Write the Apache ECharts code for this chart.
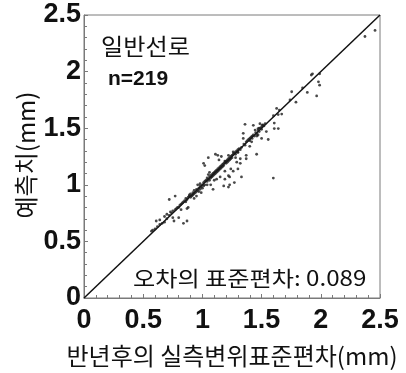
<!DOCTYPE html>
<html>
<head>
<meta charset="utf-8">
<script src="https://cdn.jsdelivr.net/npm/echarts@6/dist/echarts.min.js"></script>
<style>
  html, body { margin: 0; padding: 0; background: #fff; }
  #chart { width: 406px; height: 373px; }
</style>
</head>
<body>
<div id="chart"></div>
<script>
// Axis ticks (mm)
const tickValues = [0, 0.5, 1, 1.5, 2, 2.5];

// Reference line: prediction equals measurement
const identityLine = [[0, 0], [2.5, 2.5]];

// [measured SD after half a year (mm), predicted value (mm)]
const lowerRange = [
  [0.57,0.59],[0.58,0.60],[0.60,0.61],[0.61,0.68],[0.62,0.63],[0.64,0.69],[0.64,0.65],[0.66,0.66],
  [0.68,0.67],[0.68,0.72],[0.70,0.74],[0.70,0.70],[0.72,0.73],[0.72,0.87],[0.73,0.76],[0.74,0.75],
  [0.75,0.71],[0.75,0.77],[0.76,0.68],[0.77,0.78],[0.77,0.90],[0.78,0.79],[0.79,0.80],[0.80,0.71],
  [0.80,0.80],[0.81,0.82],[0.82,0.83],[0.82,0.78],[0.84,0.66],[0.84,0.85],[0.85,0.86],[0.86,0.88],
  [0.87,0.68],[0.87,0.79],[0.87,0.87],[0.88,0.80],[0.88,0.89],[0.89,0.90],[0.83,0.84],[0.86,0.85]
];
const midRange = [
  [0.89,0.91],[0.90,0.89],[0.90,0.92],[0.91,0.90],[0.92,0.93],[0.92,0.91],[0.93,0.92],[0.93,0.95],
  [0.94,0.93],[0.95,0.94],[0.95,0.96],[0.96,0.95],[0.97,0.97],[0.97,0.94],[0.98,0.99],[0.98,0.96],
  [0.99,0.98],[1.00,1.00],[1.00,0.97],[1.01,1.02],[0.98,1.01],[1.01,0.99],[1.02,1.00],
  [0.93,0.88],[0.95,0.90],[0.96,1.00],[0.99,0.93],
  [1.02,1.03],[1.03,1.04],[1.04,1.03],[1.04,1.06],[1.05,1.05],[1.06,1.07],[1.06,1.04],[1.07,1.08],
  [1.07,1.06],[1.08,1.09],[1.08,1.07],[1.09,1.10],[1.09,1.08],[1.10,1.11],[1.10,1.09],[1.11,1.12],
  [1.11,1.10],[1.12,1.13],[1.12,1.11],[1.13,1.12],[1.13,1.14],[1.14,1.13],[1.14,1.15],[1.15,1.16],
  [1.05,1.09],[1.06,1.11],
  [1.05,1.24],[1.01,1.19],[1.02,1.17],[1.11,1.27],[1.13,1.26],[1.04,1.00],[1.09,0.96],[1.12,1.05],
  [1.15,1.07],[1.18,0.99],[1.22,0.98],[1.23,1.00],[1.27,1.02],[1.19,1.05],[1.23,1.07],[1.33,1.07],
  [1.10,1.04],[1.07,1.00]
];
const upperRange = [
  [1.15,1.14],[1.16,1.17],[1.16,1.15],[1.17,1.18],[1.17,1.16],[1.18,1.19],[1.18,1.17],[1.19,1.20],
  [1.19,1.21],[1.20,1.19],[1.20,1.21],[1.21,1.22],[1.21,1.20],[1.22,1.23],[1.22,1.21],[1.23,1.24],
  [1.23,1.22],[1.24,1.25],[1.24,1.23],[1.25,1.26],[1.25,1.24],[1.26,1.27],[1.26,1.29],[1.27,1.28],
  [1.28,1.27],[1.28,1.29],[1.29,1.30],[1.30,1.29],[1.30,1.31],[1.31,1.32],[1.32,1.31],[1.33,1.33],
  [1.28,1.24],[1.32,1.23],[1.29,1.20],[1.37,1.23],[1.32,1.19],[1.30,1.14],[1.26,1.12],[1.24,1.14],
  [1.19,1.12],[1.22,1.08],[1.16,1.25],[1.14,1.22],[1.37,1.26],[1.30,1.285],[1.22,1.26],
  [1.35,1.36],[1.36,1.35],[1.37,1.38],[1.38,1.39],[1.39,1.40],[1.40,1.41],[1.40,1.39],[1.41,1.42],
  [1.42,1.41],[1.42,1.43],[1.43,1.44],[1.44,1.43],[1.45,1.46],[1.46,1.45],[1.47,1.48],[1.48,1.47],
  [1.48,1.50],[1.49,1.50],[1.50,1.51],[1.50,1.49],[1.51,1.53],[1.52,1.52],
  [1.345,1.455],[1.345,1.41],[1.36,1.534],[1.43,1.525],[1.47,1.44],[1.50,1.41],[1.46,1.43],
  [1.54,1.47],[1.556,1.40],[1.40,1.34],[1.416,1.38],[1.458,1.27],[1.53,1.54],[1.505,1.525],
  [1.486,1.54],[1.445,1.483],[1.47,1.497],[1.607,1.545],[1.641,1.497],[1.607,1.497],[1.599,1.059]
];
const highRange = [
  [1.60,1.61],[1.627,1.675],[1.64,1.62],[1.67,1.625],[1.65,1.66],[1.74,1.75],[1.754,1.822],
  [1.79,1.73],[1.846,1.856],[1.886,1.816],[1.93,1.98],[1.92,1.97],[1.99,1.98],[1.98,1.91],
  [1.99,1.88],[1.965,1.785],[2.373,2.31],[2.458,2.364]
];

const samples = lowerRange.concat(midRange, upperRange, highRange);

const frameColor = '#7a7a7a';
const inkColor = '#111';
const latin = 'Arial, "Liberation Sans", Helvetica, sans-serif';
const hangul = '"Noto Sans CJK KR", "Noto Sans", sans-serif';

function numAxis(extra, labelMargin) {
  return Object.assign({
    type: 'value',
    min: tickValues[0],
    max: tickValues[tickValues.length - 1],
    interval: 0.5,
    axisLine: { show: true, lineStyle: { color: frameColor, width: 1 } },
    axisTick: { show: true, inside: true, length: 4, lineStyle: { color: frameColor } },
    minorTick: { show: true, splitNumber: 5, length: 3, lineStyle: { color: frameColor } },
    splitLine: { show: false },
    axisLabel: {
      color: inkColor, fontSize: 27, fontWeight: 'bold', fontFamily: latin,
      margin: labelMargin, formatter: v => String(v)
    },
    nameTextStyle: { color: inkColor, fontSize: 24, fontFamily: hangul }
  }, extra);
}

const chart = echarts.init(document.getElementById('chart'), null, { renderer: 'canvas' });
chart.setOption({
  animation: false,
  backgroundColor: '#fff',
  grid: {
    left: 84, top: 15, right: 26, bottom: 63,
    show: true, borderColor: frameColor, borderWidth: 1, backgroundColor: 'transparent'
  },
  xAxis: numAxis({ name: '반년후의 실측변위표준편차(mm)', nameLocation: 'middle', nameGap: 46 }, 9),
  yAxis: numAxis({}, 3),
  series: [
    {
      type: 'line', data: identityLine, showSymbol: false, silent: true,
      lineStyle: { color: inkColor, width: 1.5 }, z: 2
    },
    {
      type: 'scatter', data: samples, symbol: 'circle', symbolSize: 2.8,
      itemStyle: { color: '#1c1c1c' }, z: 3
    }
  ],
  graphic: [
    { type: 'text', x: 26, y: 155, rotation: Math.PI / 2,
      style: { text: '예측치(mm)', fill: inkColor, font: '24px ' + hangul,
        textAlign: 'center', textVerticalAlign: 'middle' } },
    { type: 'text', x: 101, y: 35, scaleX: 1.05,
      style: { text: '일반선로', fill: inkColor, font: '23px ' + hangul } },
    { type: 'text', x: 108, y: 69,
      style: { text: 'n=219', fill: inkColor, font: 'bold 21px ' + latin } },
    { type: 'text', x: 133, y: 268, scaleX: 1.15,
      style: { text: '오차의 표준편차: 0.089', fill: inkColor, font: '21px ' + hangul } }
  ]
});
</script>
</body>
</html>
